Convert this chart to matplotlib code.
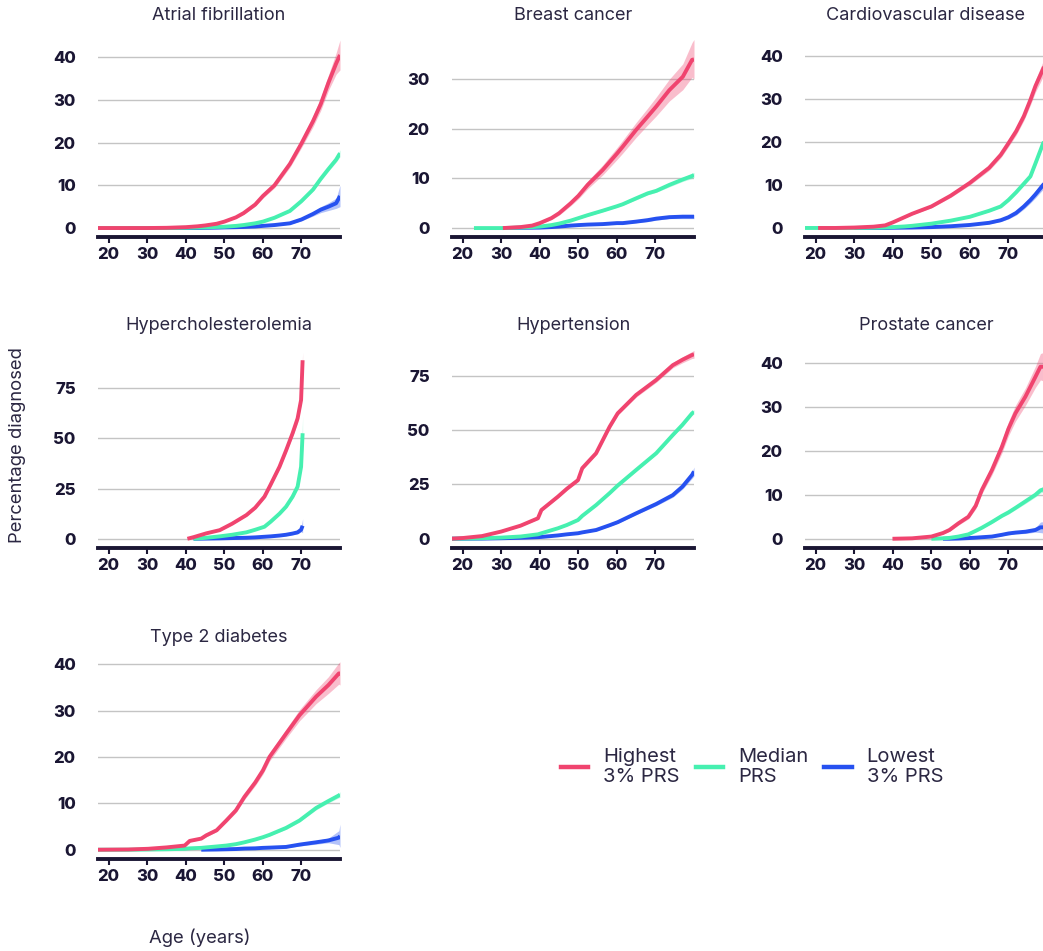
import numpy as np
import matplotlib.pyplot as plt
from matplotlib.lines import Line2D

plt.rcParams['font.family'] = ['Inter', 'DejaVu Sans']

nan = np.nan

# ---- atrial fibrillation
af_age = [17.2, 20, 25, 30, 35, 40, 43, 45, 48, 50, 53, 55, 58, 60, 63, 65, 67, 70, 73, 75, 77, 79, 80]
af_high = [0, 0, 0, 0, 0.05, 0.2, 0.4, 0.6, 1.0, 1.5, 2.5, 3.5, 5.5, 7.5, 10, 12.5, 15, 19.8, 25, 29, 34, 38.5, 40.5]
af_med = [0, 0, 0, 0, 0, 0.05, 0.1, 0.15, 0.25, 0.3, 0.5, 0.7, 1.1, 1.5, 2.4, 3.2, 4.0, 6.3, 9, 11.5, 13.8, 16, 17.5]
af_low = [nan, nan, 0, 0, 0, 0, 0, 0.05, 0.1, 0.15, 0.2, 0.25, 0.35, 0.5, 0.7, 0.9, 1.1, 2.0, 3.3, 4.3, 5.0, 5.8, 7.5]
af_high_ci = [0, 0, 0, 0, 0, 0, 0, 0, 0.1, 0.1, 0.2, 0.3, 0.4, 0.5, 0.6, 0.7, 0.8, 1.0, 1.3, 1.5, 1.8, 2.5, 3.5]
af_med_ci = [0, 0, 0, 0, 0, 0, 0, 0, 0, 0, 0, 0, 0.1, 0.1, 0.1, 0.2, 0.2, 0.3, 0.3, 0.4, 0.5, 0.6, 0.8]
af_low_ci = [0, 0, 0, 0, 0, 0, 0, 0, 0, 0, 0, 0.1, 0.1, 0.1, 0.2, 0.2, 0.2, 0.3, 0.5, 0.7, 0.9, 1.2, 2.5]

# ---- breast cancer
bc_age = [22.9, 25, 30.4, 35, 38, 40, 43, 45, 48, 50, 52.4, 56.3, 60, 61.5, 65, 68, 70.2, 73.6, 77.1, 79.5, 80]
bc_high = [nan, nan, 0, 0.2, 0.5, 1.0, 2.0, 3.0, 5.0, 6.5, 8.7, 11.7, 15, 16.4, 19.8, 22.5, 24.5, 27.8, 30.5, 33.9, 34]
bc_med = [0, 0, 0, 0.1, 0.2, 0.3, 0.6, 0.9, 1.5, 2.0, 2.6, 3.5, 4.4, 4.8, 6.0, 7.0, 7.5, 8.7, 9.8, 10.5, 10.7]
bc_low = [nan, nan, 0, 0.05, 0.08, 0.1, 0.2, 0.3, 0.5, 0.6, 0.7, 0.8, 1.0, 1.0, 1.3, 1.6, 1.9, 2.2, 2.3, 2.3, 2.3]
bc_high_ci = [0, 0, 0, 0, 0.1, 0.2, 0.3, 0.4, 0.5, 0.6, 0.8, 1.0, 1.2, 1.3, 1.5, 1.7, 1.9, 2.2, 2.6, 3.5, 4.0]
bc_med_ci = [0, 0, 0, 0, 0, 0, 0.1, 0.1, 0.1, 0.1, 0.2, 0.2, 0.2, 0.2, 0.3, 0.3, 0.3, 0.4, 0.4, 0.5, 0.5]
bc_low_ci = [0, 0, 0, 0, 0, 0, 0, 0.1, 0.1, 0.1, 0.1, 0.2, 0.2, 0.2, 0.2, 0.3, 0.3, 0.3, 0.4, 0.4, 0.4]

# ---- cardiovascular disease
cv_age = [17.2, 20.6, 25, 30, 35, 38, 40, 43, 45, 50, 55, 60, 65, 68, 70, 72, 74, 75.7, 77, 79, 80]
cv_high = [nan, 0, 0, 0.1, 0.3, 0.6, 1.3, 2.5, 3.3, 5.0, 7.5, 10.5, 14, 17, 19.7, 22.5, 26, 29.8, 33, 37, 39]
cv_med = [0, 0, 0, 0, 0.05, 0.1, 0.2, 0.35, 0.5, 1.0, 1.7, 2.6, 4.0, 5.0, 6.5, 8.3, 10.3, 12.0, 15, 19.7, 21]
cv_low = [nan, nan, nan, 0, 0, 0, 0.05, 0.08, 0.1, 0.2, 0.4, 0.7, 1.2, 1.8, 2.5, 3.5, 5.0, 6.5, 7.8, 10, 11]
cv_high_ci = [0, 0, 0, 0, 0, 0, 0.1, 0.2, 0.2, 0.3, 0.4, 0.5, 0.6, 0.7, 0.8, 0.9, 1.0, 1.2, 1.4, 1.8, 2.0]
cv_med_ci = [0, 0, 0, 0, 0, 0, 0, 0, 0, 0.1, 0.1, 0.1, 0.2, 0.2, 0.3, 0.3, 0.4, 0.4, 0.5, 0.6, 0.7]
cv_low_ci = [0, 0, 0, 0, 0, 0, 0, 0, 0, 0.1, 0.1, 0.1, 0.2, 0.3, 0.4, 0.5, 0.6, 0.7, 0.8, 1.0, 1.2]

# ---- hypercholesterolemia
hc_age = [40.4, 42, 45.3, 48.8, 52, 55.7, 58, 60.4, 62, 64.3, 66, 67.7, 69, 69.9, 70.3]
hc_high = [0, 0.8, 2.7, 4.3, 7.5, 11.8, 15.5, 21, 27, 35.9, 44, 52.6, 60, 69.2, 89]
hc_med = [nan, 0, 0.5, 1.2, 2.0, 3.2, 4.5, 6.0, 8.5, 12.5, 16, 21, 26, 35.9, 52.6]
hc_low = [nan, 0, 0.1, 0.2, 0.35, 0.5, 0.7, 1.0, 1.2, 1.6, 2.0, 2.6, 3.2, 4.5, 6.5]
hc_high_ci = [0, 0.1, 0.2, 0.3, 0.4, 0.5, 0.6, 0.7, 0.8, 1.0, 1.2, 1.5, 2.0, 2.5, 4.0]
hc_med_ci = [0, 0, 0.1, 0.1, 0.1, 0.2, 0.2, 0.3, 0.4, 0.5, 0.7, 0.9, 1.2, 2.0, 8.5]
hc_low_ci = [0, 0, 0, 0, 0.1, 0.1, 0.1, 0.2, 0.2, 0.3, 0.4, 0.5, 0.7, 1.0, 3.5]

# ---- hypertension
ht_age = [17.1, 20, 25, 30, 35, 39.5, 40.4, 44.7, 47, 49.9, 51, 54.6, 58.1, 60.2, 65, 70.2, 74.5, 77, 79.5, 80]
ht_high = [0, 0.3, 1.2, 3.3, 6, 9.4, 13.2, 19.4, 23, 27, 32.5, 39.4, 51.6, 57.8, 66.3, 73.2, 80, 82.5, 84.7, 85]
ht_med = [0, 0.05, 0.2, 0.5, 1.0, 2.0, 2.5, 4.8, 6.3, 8.6, 10.5, 15.5, 21, 24.5, 31.7, 39.4, 47.8, 52.5, 57.8, 58.5]
ht_low = [0, 0, 0.05, 0.2, 0.4, 0.7, 0.8, 1.5, 2.0, 2.5, 2.9, 4.0, 6.2, 7.6, 11.7, 16, 20.1, 24, 29.4, 31]
ht_high_ci = [0, 0.1, 0.2, 0.3, 0.4, 0.5, 0.5, 0.6, 0.7, 0.7, 0.8, 0.8, 0.9, 0.9, 1.0, 1.1, 1.2, 1.4, 1.6, 1.8]
ht_med_ci = [0, 0, 0, 0.1, 0.1, 0.2, 0.2, 0.3, 0.3, 0.3, 0.4, 0.4, 0.5, 0.5, 0.6, 0.6, 0.7, 0.8, 0.9, 1.0]
ht_low_ci = [0, 0, 0, 0, 0.1, 0.1, 0.1, 0.2, 0.2, 0.3, 0.3, 0.4, 0.5, 0.5, 0.6, 0.8, 1.0, 1.2, 1.6, 2.0]

# ---- prostate cancer
pc_age = [39.9, 45, 50, 53, 54.7, 57, 59.6, 61.5, 63.1, 65.7, 68.3, 70, 71.8, 74.4, 77, 78.3, 80]
pc_high = [0, 0.1, 0.5, 1.3, 2, 3.5, 5, 7.5, 11.1, 15.6, 20.9, 25, 28.5, 32.3, 36.8, 39.1, 39.1]
pc_med = [nan, nan, 0, 0.1, 0.2, 0.5, 1.0, 1.8, 2.5, 3.8, 5.2, 6.0, 7.0, 8.5, 10.0, 11.0, 11.5]
pc_low = [nan, nan, nan, 0, 0, 0.05, 0.15, 0.25, 0.35, 0.5, 0.9, 1.2, 1.4, 1.6, 2.0, 2.6, 2.6]
pc_high_ci = [0, 0, 0.1, 0.2, 0.3, 0.4, 0.5, 0.7, 0.9, 1.1, 1.4, 1.6, 1.8, 2.0, 2.4, 3.0, 3.5]
pc_med_ci = [0, 0, 0, 0, 0.1, 0.1, 0.1, 0.2, 0.2, 0.3, 0.3, 0.4, 0.4, 0.5, 0.5, 0.6, 0.7]
pc_low_ci = [0, 0, 0, 0, 0, 0, 0.1, 0.1, 0.1, 0.2, 0.2, 0.3, 0.3, 0.4, 0.5, 1.2, 1.4]

# ---- type 2 diabetes
t2_age = [17.2, 25, 30.2, 35, 39.7, 41, 44, 45.3, 48, 50.5, 53, 55.2, 58, 60, 61.7, 66, 69.5, 73.8, 77, 79.7, 80]
t2_high = [0, 0.05, 0.2, 0.5, 0.9, 1.9, 2.4, 3.1, 4.2, 6.3, 8.5, 11.4, 14.5, 17.1, 20, 25, 29, 33, 35.5, 38, 38]
t2_med = [0, 0, 0.05, 0.1, 0.2, 0.3, 0.4, 0.5, 0.7, 0.9, 1.2, 1.6, 2.2, 2.7, 3.2, 4.7, 6.3, 9.0, 10.5, 11.7, 11.9]
t2_low = [nan, nan, nan, nan, nan, nan, 0, 0.02, 0.05, 0.1, 0.15, 0.25, 0.3, 0.4, 0.45, 0.6, 1.1, 1.6, 2.0, 2.6, 3.0]
t2_high_ci = [0, 0, 0, 0, 0.1, 0.2, 0.2, 0.3, 0.3, 0.4, 0.5, 0.6, 0.7, 0.8, 0.9, 1.0, 1.2, 1.5, 1.8, 2.3, 2.5]
t2_med_ci = [0, 0, 0, 0, 0, 0, 0, 0, 0.1, 0.1, 0.1, 0.1, 0.2, 0.2, 0.2, 0.3, 0.3, 0.4, 0.4, 0.5, 0.6]
t2_low_ci = [0, 0, 0, 0, 0, 0, 0, 0, 0, 0.1, 0.1, 0.1, 0.1, 0.2, 0.2, 0.2, 0.3, 0.4, 0.5, 1.5, 2.5]

x_ticks = [20, 30, 40, 50, 60, 70]
legend_labels = ["Highest\n3% PRS", "Median\nPRS", "Lowest\n3% PRS"]

RED = '#f0446f'
GREEN = '#46f0b0'
BLUE = '#2651f0'
INK = '#1a1633'
TITLE_INK = '#2b2742'
GRID = '#c4c4c4'

W, H = 1043, 951
fig = plt.figure(figsize=(W / 100, H / 100), dpi=100)

# (title, ages, series, bands, yticks, ylim, left px, bottom px, top px)
panels = [
    ("Atrial fibrillation", af_age, (af_high, af_med, af_low), (af_high_ci, af_med_ci, af_low_ci),
     [0, 10, 20, 30, 40], (-2.1, 44.0), 98, 237, 40),
    ("Breast cancer", bc_age, (bc_high, bc_med, bc_low), (bc_high_ci, bc_med_ci, bc_low_ci),
     [0, 10, 20, 30], (-1.8, 37.9), 452, 237, 40),
    ("Cardiovascular disease", cv_age, (cv_high, cv_med, cv_low), (cv_high_ci, cv_med_ci, cv_low_ci),
     [0, 10, 20, 30, 40], (-2.1, 43.7), 805, 237, 40),
    ("Hypercholesterolemia", hc_age, (hc_high, hc_med, hc_low), (hc_high_ci, hc_med_ci, hc_low_ci),
     [0, 25, 50, 75], (-4.6, 94.1), 98, 548, 350),
    ("Hypertension", ht_age, (ht_high, ht_med, ht_low), (ht_high_ci, ht_med_ci, ht_low_ci),
     [0, 25, 50, 75], (-4.3, 87.0), 452, 548, 350),
    ("Prostate cancer", pc_age, (pc_high, pc_med, pc_low), (pc_high_ci, pc_med_ci, pc_low_ci),
     [0, 10, 20, 30, 40], (-2.1, 42.9), 805, 548, 350),
    ("Type 2 diabetes", t2_age, (t2_high, t2_med, t2_low), (t2_high_ci, t2_med_ci, t2_low_ci),
     [0, 10, 20, 30, 40], (-2.0, 40.9), 98, 859, 660),
]

title_y = {40: 15, 350: 326, 660: 637}
colors = (RED, GREEN, BLUE)

for title, age, series, cis, yticks, ylim, left, bottom, top in panels:
    ax = fig.add_axes([left / W, 1 - bottom / H, 242 / W, (bottom - top) / H])
    age = np.asarray(age, dtype=float)
    # lowest first so the high-risk curve sits on top
    for vals, ci, col in zip(series[::-1], cis[::-1], colors[::-1]):
        vals = np.asarray(vals, dtype=float)
        ci = np.asarray(ci, dtype=float)
        ax.fill_between(age, vals - ci, vals + ci, color=col, alpha=0.35, lw=0)
        ax.plot(age, vals, color=col, lw=2.8, solid_capstyle='butt', solid_joinstyle='round')

    ax.set_xlim(17.2, 80)
    ax.set_ylim(*ylim)
    ax.set_xticks(x_ticks)
    ax.set_yticks(yticks)
    ax.grid(axis='y', color=GRID, lw=1.0)
    ax.set_axisbelow(True)
    for s in ('top', 'right', 'left'):
        ax.spines[s].set_visible(False)
    ax.spines['bottom'].set_color(INK)
    ax.spines['bottom'].set_linewidth(2.8)
    ax.tick_params(axis='x', direction='out', length=4.5, width=1.5, color=INK, pad=3)
    ax.tick_params(axis='y', length=0, pad=16)
    for lab in ax.get_xticklabels() + ax.get_yticklabels():
        lab.set_fontweight('heavy')
        lab.set_fontsize(12)
        lab.set_color(INK)

    fig.text((left + 121) / W, 1 - title_y[top] / H, title, ha='center', va='center',
             fontsize=13, color=TITLE_INK)

fig.text(18 / W, 1 - 445 / H, "Percentage diagnosed", rotation=90, ha='center', va='center',
         fontsize=13.3, color=TITLE_INK)
fig.text(200 / W, 1 - 938 / H, "Age (years)", ha='center', va='center',
         fontsize=13.3, color=TITLE_INK)

handles = [Line2D([], [], color=c, lw=3.2) for c in colors]
fig.legend(handles, legend_labels, loc='center', bbox_to_anchor=(752 / W, 1 - 767 / H),
           ncol=3, frameon=False, fontsize=14.5, handlelength=1.35, handletextpad=0.75,
           columnspacing=0.8, labelcolor=TITLE_INK, labelspacing=0.2)

fig.savefig('out.png', dpi=100)
